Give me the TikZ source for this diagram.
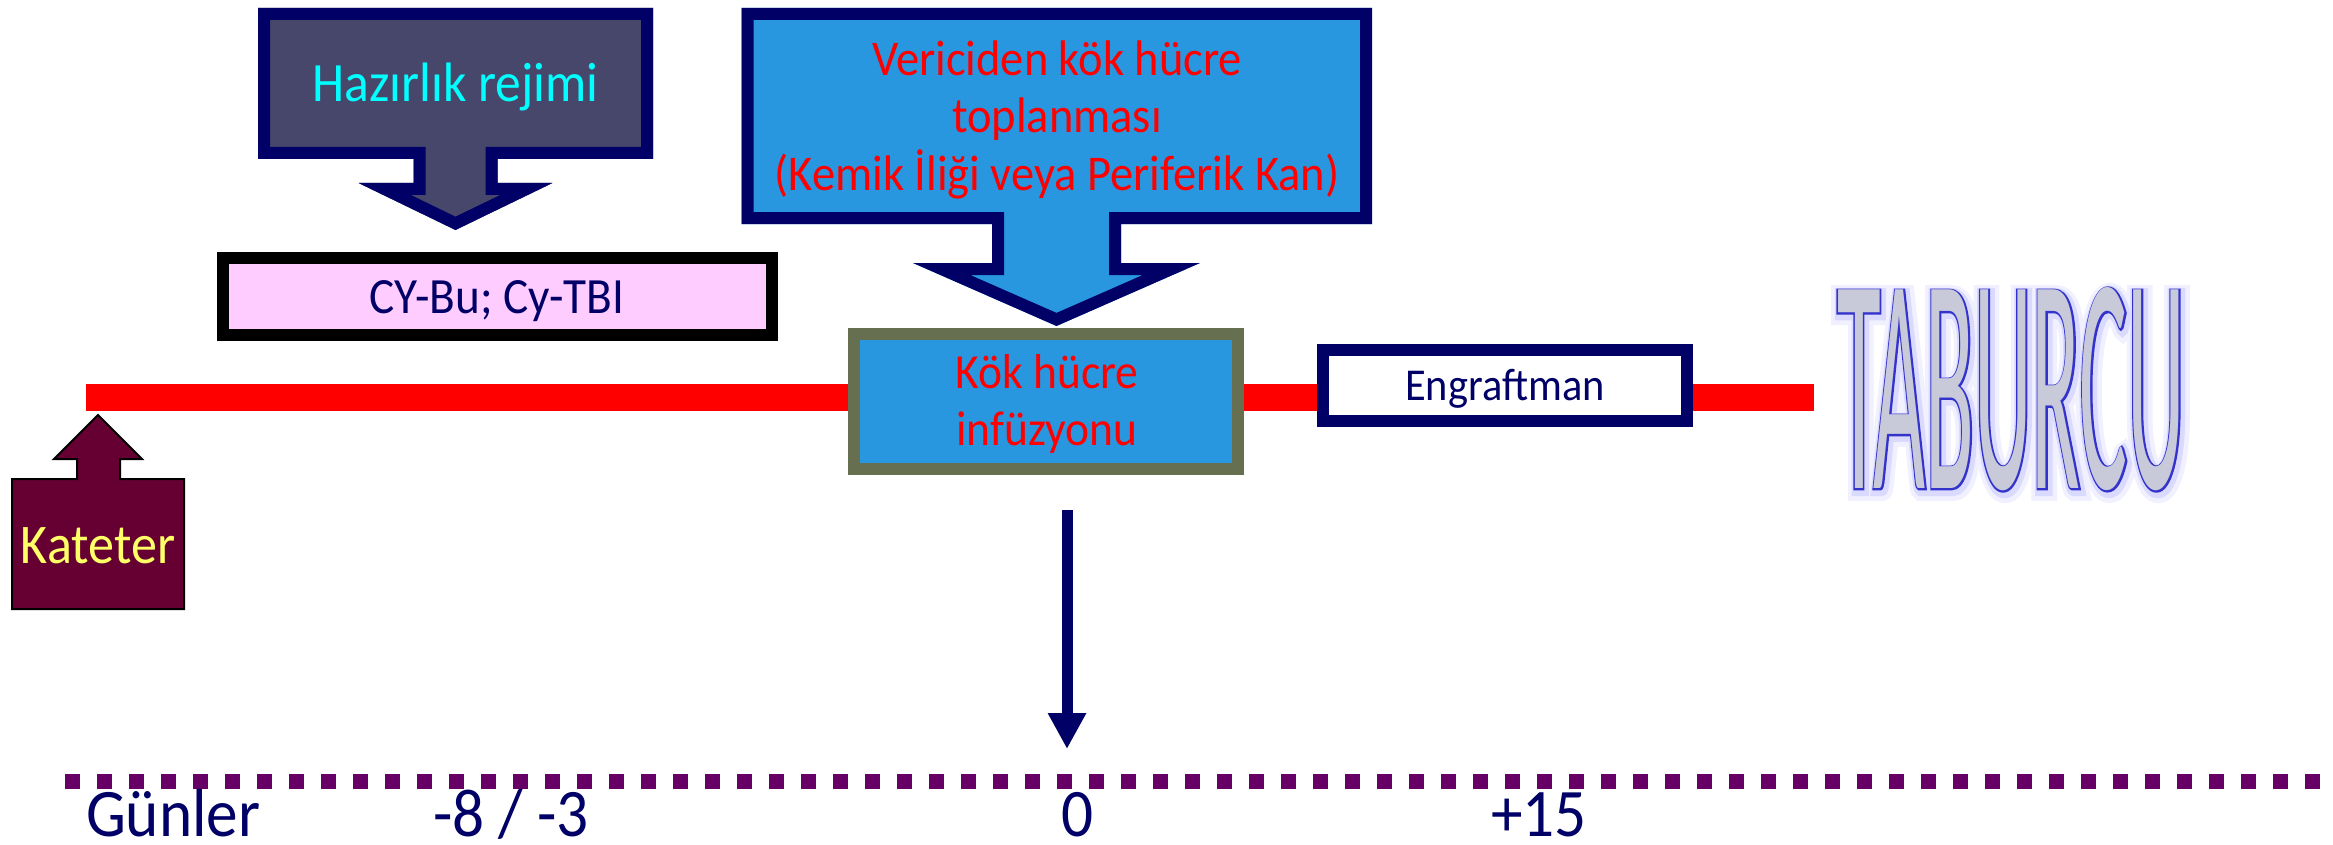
\documentclass[tikz,border=0pt]{standalone}
\usepackage{fontspec}
\setmainfont{Carlito}[FakeStretch=0.93]
\newfontfamily\tabfont{Carlito}[FakeStretch=0.28]
\newfontfamily\tabfontol{Carlito}[FakeStretch=0.28,FakeBold=1.0]
\newfontfamily\tabfontga{Carlito}[FakeStretch=0.28,FakeBold=3]
\newfontfamily\tabfontgb{Carlito}[FakeStretch=0.28,FakeBold=5.5]
\usetikzlibrary{arrows.meta}
\definecolor{navy}{RGB}{0,0,102}
\definecolor{slatefill}{RGB}{71,71,107}
\definecolor{skyfill}{RGB}{41,151,224}
\definecolor{pinkfill}{RGB}{255,204,255}
\definecolor{olivebd}{RGB}{102,112,80}
\definecolor{katfill}{RGB}{102,0,51}
\definecolor{kyellow}{RGB}{255,255,102}
\definecolor{dashpurple}{RGB}{102,0,102}
\definecolor{tabblue}{RGB}{51,51,204}
\definecolor{tabfill}{RGB}{200,202,218}
\definecolor{glowA}{RGB}{218,218,255}
\definecolor{glowB}{RGB}{240,240,255}
\definecolor{cyantext}{RGB}{0,255,255}
\newcommand{\tabword}[1]{\resizebox{348pt}{201pt}{#1\fontsize{312}{312}\selectfont TABURCU}}
\begin{document}
\begin{tikzpicture}[x=1pt,y=-1pt,
  every node/.style={inner sep=0pt,outer sep=0pt},
  lbl/.style={anchor=base,align=center},
  framebox/.style={draw,line width=12pt,line join=miter},
  calloutbd/.style={draw=navy,line width=24pt,line join=miter},
  timeline/.style={red,line width=27pt},
  dayline/.style={dashpurple,line width=15pt,dash pattern=on 15pt off 17pt},
  dayarrow/.style={navy,line width=11pt,-{Triangle[length=36pt,width=36pt]}},
  daylbl/.style={anchor=base,text=navy,font=\fontsize{68}{76}\selectfont},
  tabcopy/.style={anchor=center}
]
\useasboundingbox (0,0) rectangle (2333,845);

% timeline
\coordinate (tl0) at (86,397.5);
\coordinate (tl1) at (1814,397.5);
\draw[timeline] (tl0) -- (tl1);

% callout 1: Hazirlik rejimi
\begin{scope}
  \clip (258,8) -- (653,8) -- (653,159) -- (497.5,159) -- (497.5,183) -- (552.5,183)
        -- (455.5,230) -- (358.5,183) -- (413.5,183) -- (413.5,159) -- (258,159) -- cycle;
  \filldraw[fill=slatefill,calloutbd] (258,8) -- (653,8) -- (653,159) -- (497.5,159) -- (497.5,183) -- (552.5,183)
        -- (455.5,230) -- (358.5,183) -- (413.5,183) -- (413.5,159) -- (258,159) -- cycle;
\end{scope}
\node[lbl,text=cyantext,font=\fontsize{55.5}{64}\selectfont] (hazir) at (455.5,102) {Hazırlık rejimi};

% pink box
\node[framebox,draw=black,fill=pinkfill,minimum width=549pt,minimum height=77pt] (cybox) at (497.5,296.5) {};
\node[lbl,text=navy,font=\fontsize{50.8}{58}\selectfont] (cytext) at (497,313) {CY-Bu; Cy-TBI};

% callout 2: Vericiden
\begin{scope}
  \clip (741.5,8) -- (1372,8) -- (1372,224) -- (1121,224) -- (1121,263) -- (1200,263)
        -- (1056.5,326) -- (913,263) -- (992,263) -- (992,224) -- (741.5,224) -- cycle;
  \filldraw[fill=skyfill,calloutbd] (741.5,8) -- (1372,8) -- (1372,224) -- (1121,224) -- (1121,263) -- (1200,263)
        -- (1056.5,326) -- (913,263) -- (992,263) -- (992,224) -- (741.5,224) -- cycle;
\end{scope}
\node[lbl,text=red,font=\fontsize{50}{57.5}\selectfont] (veri) at (1057,190)
  {Vericiden kök hücre\\toplanması\\(Kemik İliği veya Periferik Kan)};

% Kok hucre infuzyonu
\node[framebox,draw=olivebd,fill=skyfill,minimum width=384pt,minimum height=135pt] (kokbox) at (1046,401.5) {};
\node[lbl,text=red,font=\fontsize{49}{57}\selectfont] (koktext) at (1047,445) {Kök hücre\\infüzyonu};

% Engraftman
\node[framebox,draw=navy,fill=white,minimum width=364pt,minimum height=71pt] (engbox) at (1505,385.5) {};
\node[lbl,text=navy,font=\fontsize{45.6}{52}\selectfont] (engtext) at (1505,400) {Engraftman};

% TABURCU
\node[tabcopy,text=glowB] (tabglowb) at (2013,393) {\tabword{\tabfontgb}};
\node[tabcopy,text=glowA] (tabglowa) at (2012.5,392) {\tabword{\tabfontga}};
\node[tabcopy,text=tabblue] (taboutline) at (2011,389.5) {\tabword{\tabfontol}};
\node[tabcopy,text=tabfill] (taburcu) at (2011,389.5) {\tabword{\tabfont}};

% Kateter
\filldraw[fill=katfill,draw=black,line width=2pt,line join=miter]
  (12,479) -- (77,479) -- (77,459) -- (54,459) -- (98,415) -- (142,459) -- (120,459)
  -- (120,479) -- (184,479) -- (184,609) -- (12,609) -- cycle;
\node[lbl,text=kyellow,font=\fontsize{56}{62}\selectfont] (kateter) at (98,563) {Kateter};

% vertical arrow
\coordinate (va0) at (1067,510);
\coordinate (va1) at (1067,749);
\draw[dayarrow] (va0) -- (va1);

% days line
\coordinate (dl0) at (65,781.5);
\coordinate (dl1) at (2321,781.5);
\draw[dayline] (dl0) -- (dl1);

\node[daylbl,anchor=base west] (gunler) at (86,836) {Günler};
\node[daylbl] (dmin) at (511,836) {-8 / -3};
\node[daylbl] (dzero) at (1078,836) {0};
\node[daylbl] (dplus) at (1539,836) {+15};
\end{tikzpicture}
\end{document}
